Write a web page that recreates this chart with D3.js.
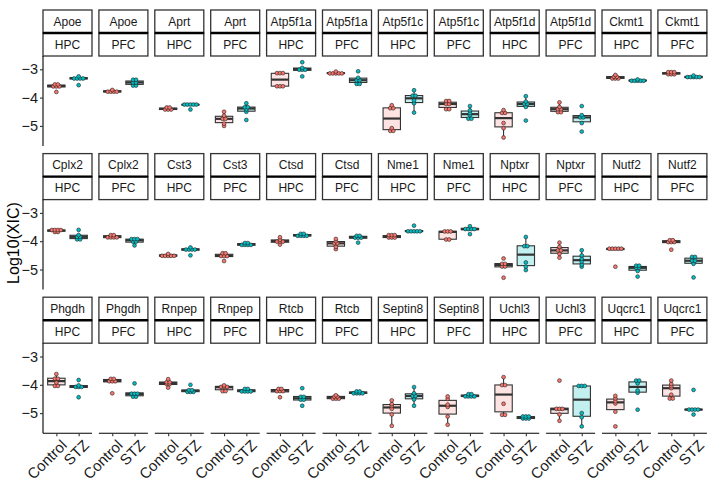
<!DOCTYPE html>
<html>
<head>
<meta charset="utf-8">
<script src="https://cdn.jsdelivr.net/npm/d3@7"></script>
<style>
  body { margin: 0; background: #fff; }
  text { font-family: "Liberation Sans", Arial, sans-serif; }
</style>
</head>
<body>
<div id="chart"></div>
<script>
// facets: gene x region, 12 columns x 3 rows
var genes = ["Apoe", "Aprt", "Atp5f1a", "Atp5f1c", "Atp5f1d", "Ckmt1",
             "Cplx2", "Cst3", "Ctsd", "Nme1", "Nptxr", "Nutf2",
             "Phgdh", "Rnpep", "Rtcb", "Septin8", "Uchl3", "Uqcrc1"];
var regions = ["HPC", "PFC"];
var groups = ["Control", "STZ"];
var yTicks = [-3, -4, -5];

// log10(XIC) per animal, one list per facet (same order as gene x region)
var controlValues = [
  [-3.52, -3.55, -3.58, -3.6, -3.63, -3.8],
  [-3.73, -3.76, -3.78, -3.8, -3.82],
  [-4.33, -4.37, -4.4, -4.42, -4.44],
  [-4.5, -4.64, -4.72, -4.78, -4.92, -5.0],
  [-3.12, -3.14, -3.15, -3.58, -3.6, -3.62],
  [-3.08, -3.12, -3.13, -3.14, -3.15, -3.17],
  [-4.27, -4.35, -4.4, -5.08, -5.15, -5.2],
  [-4.09, -4.15, -4.2, -4.25, -4.38, -4.44],
  [-4.44, -4.53, -4.55, -4.9, -5.08, -5.41],
  [-4.17, -4.33, -4.38, -4.44, -4.5, -4.53],
  [-3.2, -3.25, -3.28, -3.3, -3.33, -3.35],
  [-3.07, -3.12, -3.13, -3.15, -3.17, -3.2],
  [-3.58, -3.6, -3.62, -3.63, -3.65, -3.7],
  [-3.77, -3.8, -3.83, -3.85, -3.88, -3.9],
  [-4.45, -4.48, -4.5, -4.52, -4.53, -4.55],
  [-4.4, -4.45, -4.5, -4.52, -4.55, -4.7],
  [-3.86, -3.95, -3.98, -4.0, -4.05, -4.12],
  [-3.92, -4.0, -4.05, -4.1, -4.2, -4.28],
  [-3.75, -3.8, -3.82, -3.84, -3.88, -3.9],
  [-3.64, -3.65, -3.67, -3.93, -3.95],
  [-4.61, -4.78, -4.82, -4.87, -4.92, -5.29],
  [-4.05, -4.2, -4.3, -4.35, -4.45, -4.58],
  [-4.23, -4.25, -4.27, -4.28, -4.3, -4.9],
  [-3.95, -3.98, -4.0, -4.02, -4.06, -4.3],
  [-3.62, -3.75, -3.82, -3.92, -4.03, -4.05],
  [-3.78, -3.8, -3.85, -3.88, -3.9, -4.3],
  [-3.8, -3.9, -3.92, -3.95, -4.0, -4.1],
  [-4.02, -4.05, -4.07, -4.1, -4.2, -4.25],
  [-4.13, -4.16, -4.19, -4.22, -4.26, -4.44],
  [-4.37, -4.4, -4.44, -4.46, -4.5, -4.52],
  [-4.55, -4.68, -4.75, -4.85, -5.05, -5.45],
  [-4.41, -4.5, -4.7, -4.78, -5.12, -5.41],
  [-3.73, -4.0, -4.02, -4.67, -5.05, -5.07],
  [-3.85, -4.82, -4.84, -4.88, -5.05, -5.27],
  [-4.39, -4.48, -4.58, -4.66, -4.95, -5.47],
  [-3.85, -3.97, -4.05, -4.12, -4.35, -4.45, -4.52]
];
var stzValues = [
  [-3.25, -3.3, -3.3, -3.32, -3.35, -3.56],
  [-3.34, -3.4, -3.45, -3.48, -3.55, -3.6],
  [-4.23, -4.24, -4.25, -4.25, -4.26, -4.42],
  [-4.2, -4.33, -4.35, -4.42, -4.5, -4.79],
  [-2.75, -2.95, -2.98, -3.0, -3.05, -3.25],
  [-3.07, -3.3, -3.35, -3.42, -3.48, -3.55],
  [-3.74, -3.92, -3.95, -4.1, -4.2, -4.53],
  [-4.3, -4.45, -4.55, -4.62, -4.73, -4.76],
  [-3.95, -4.14, -4.2, -4.25, -4.33, -4.81],
  [-4.3, -4.62, -4.68, -4.72, -4.9, -5.2],
  [-3.36, -3.38, -3.4, -3.4, -3.41, -3.43],
  [-3.22, -3.25, -3.26, -3.28, -3.3, -3.3],
  [-3.6, -3.78, -3.82, -3.87, -3.92, -3.95],
  [-3.9, -3.92, -3.95, -3.98, -4.05, -4.15],
  [-4.22, -4.27, -4.28, -4.3, -4.32, -4.5],
  [-4.05, -4.08, -4.1, -4.12, -4.15, -4.16],
  [-3.72, -3.76, -3.78, -3.8, -3.82, -3.84],
  [-3.8, -3.82, -3.85, -3.87, -3.9, -4.05],
  [-3.45, -3.62, -3.64, -3.65, -3.66, -3.68],
  [-3.47, -3.54, -3.56, -3.58, -3.6, -3.75],
  [-3.85, -4.15, -4.2, -4.75, -4.9, -5.02],
  [-4.32, -4.5, -4.62, -4.72, -4.83, -4.9],
  [-4.85, -4.88, -4.93, -4.95, -5.05, -5.25],
  [-4.53, -4.58, -4.66, -4.72, -4.8, -5.28],
  [-3.83, -4.02, -4.05, -4.07, -4.1, -4.44],
  [-3.95, -4.28, -4.3, -4.35, -4.4, -4.44],
  [-4.0, -4.18, -4.2, -4.22, -4.25, -4.28],
  [-4.12, -4.17, -4.2, -4.22, -4.25, -4.27],
  [-4.12, -4.4, -4.45, -4.5, -4.55, -4.74],
  [-4.22, -4.25, -4.27, -4.29, -4.31, -4.33],
  [-4.08, -4.3, -4.37, -4.42, -4.52, -4.74],
  [-4.3, -4.36, -4.38, -4.4, -4.42, -4.44],
  [-5.1, -5.12, -5.14, -5.16, -5.2, -5.22],
  [-4.03, -4.04, -4.05, -5.0, -5.15, -5.47],
  [-3.82, -3.88, -3.95, -4.2, -4.28, -4.88],
  [-4.18, -4.86, -4.87, -4.88, -4.89, -5.05]
];

var fills = { Control: "#F8766D", STZ: "#00BFC4" };
var boxFills = { Control: "#FDE3E1", STZ: "#C2EFF0" };

var svgWidth = 717, svgHeight = 489;
var nCols = 12;
var colLeft = 43, colStep = 55.9, panelW = 49;
var rowTop = 10, rowStep = 143.6, stripH = 23, panelH = 90;

var svg = d3.select("#chart").append("svg")
  .attr("width", svgWidth)
  .attr("height", svgHeight);

var x = d3.scalePoint().domain(groups).range([0, panelW]).padding(0.6);
var y = d3.scaleLinear().domain([-5.71, -2.53]).range([panelH, 0]);
var boxW = x.step() * 0.78;

// build facet list
var facets = [];
genes.forEach(function(g) {
  regions.forEach(function(r) {
    facets.push({ gene: g, region: r });
  });
});
facets.forEach(function(f, i) {
  f.col = i % nCols;
  f.row = Math.floor(i / nCols);
  f.data = { Control: controlValues[i], STZ: stzValues[i] };
});

function boxStats(vals) {
  var s = vals.slice().sort(d3.ascending);
  var q1 = d3.quantile(s, 0.25), med = d3.quantile(s, 0.5), q3 = d3.quantile(s, 0.75);
  var iqr = q3 - q1;
  var inside = s.filter(function(v) { return v >= q1 - 1.5 * iqr && v <= q3 + 1.5 * iqr; });
  return { q1: q1, med: med, q3: q3, lo: d3.min(inside), hi: d3.max(inside) };
}

// dot density binning along y, stacked sideways around the center
function dotLayout(vals, binwidth) {
  var s = vals.slice().sort(d3.ascending), bins = [], cur = null;
  s.forEach(function(v) {
    if (cur && v - cur[0] < binwidth) cur.push(v);
    else { cur = [v]; bins.push(cur); }
  });
  var out = [];
  bins.forEach(function(b) {
    var c = (b[0] + b[b.length - 1]) / 2;
    b.forEach(function(v, k) {
      out.push({ v: c, k: k - (b.length - 1) / 2 });
    });
  });
  return out;
}

facets.forEach(function(f) {
  var px = colLeft + f.col * colStep;
  var sy = rowTop + f.row * rowStep;
  var py = sy + 2 * stripH;
  var g = svg.append("g").attr("transform", `translate(${px}, ${sy})`);

  // strips
  [f.gene, f.region].forEach(function(label, k) {
    g.append("rect")
      .attr("x", 0).attr("y", k * stripH)
      .attr("width", panelW).attr("height", stripH)
      .attr("fill", "#fff").attr("stroke", "#333").attr("stroke-width", 1.3);
    g.append("text")
      .attr("x", panelW / 2).attr("y", k * stripH + stripH / 2)
      .attr("dy", "0.36em")
      .attr("text-anchor", "middle")
      .attr("font-size", "12px")
      .attr("fill", "#1a1a1a")
      .text(label);
  });
  g.append("line")
    .attr("x1", 0).attr("x2", panelW)
    .attr("y1", stripH).attr("y2", stripH)
    .attr("stroke", "#000").attr("stroke-width", 2.4);

  var p = svg.append("g").attr("transform", `translate(${px}, ${py})`);

  groups.forEach(function(grp) {
    var vals = f.data[grp];
    var st = boxStats(vals);
    var cx = x(grp);
    p.append("line")
      .attr("x1", cx).attr("x2", cx)
      .attr("y1", y(st.hi)).attr("y2", y(st.q3))
      .attr("stroke", "#333").attr("stroke-width", 1.1);
    p.append("line")
      .attr("x1", cx).attr("x2", cx)
      .attr("y1", y(st.q1)).attr("y2", y(st.lo))
      .attr("stroke", "#333").attr("stroke-width", 1.1);
    p.append("rect")
      .attr("x", cx - boxW / 2).attr("width", boxW)
      .attr("y", y(st.q3)).attr("height", Math.max(0.1, y(st.q1) - y(st.q3)))
      .attr("fill", boxFills[grp])
      .attr("stroke", "#333").attr("stroke-width", 1.1);
    p.append("line")
      .attr("x1", cx - boxW / 2).attr("x2", cx + boxW / 2)
      .attr("y1", y(st.med)).attr("y2", y(st.med))
      .attr("stroke", "#333").attr("stroke-width", 2.2);

    p.selectAll(null)
      .data(dotLayout(vals, 0.07))
      .enter()
      .append("circle")
      .attr("cx", d => cx + d.k * 3)
      .attr("cy", d => y(d.v))
      .attr("r", 1.9)
      .attr("fill", fills[grp])
      .attr("stroke", "#222")
      .attr("stroke-width", 0.6);
  });

  // left axis only on first column
  if (f.col === 0) {
    var ya = p.append("g")
      .call(d3.axisLeft(y).tickValues(yTicks).tickSize(3).tickPadding(2)
        .tickFormat(d => d3.format("d")(d).replace("-", "\u2212")));
    ya.select(".domain").attr("stroke", "#000").attr("stroke-width", 1.1)
      .attr("d", `M0,0V${panelH}`);
    ya.selectAll(".tick line").attr("stroke", "#333").attr("stroke-width", 1.1);
    ya.selectAll(".tick text")
      .attr("font-size", "14.5px").attr("fill", "#1a1a1a")
      .attr("font-family", "Liberation Sans, Arial, sans-serif");
  }

  // bottom axis only on last row
  if (f.row === 2) {
    var xa = p.append("g")
      .attr("transform", `translate(0, ${panelH})`)
      .call(d3.axisBottom(x).tickSize(3).tickSizeOuter(0));
    xa.select(".domain").attr("stroke", "#000").attr("stroke-width", 1.1)
      .attr("d", `M0,0H${panelW}`);
    xa.selectAll(".tick line").attr("stroke", "#333").attr("stroke-width", 1.1);
    xa.selectAll(".tick text")
      .attr("font-size", "15px").attr("fill", "#1a1a1a")
      .attr("font-family", "Liberation Sans, Arial, sans-serif")
      .attr("text-anchor", "end")
      .attr("y", 0).attr("dy", "0.75em")
      .attr("transform", "translate(3, 5) rotate(-45)");
  }
});

// y axis title
svg.append("text")
  .attr("transform", "translate(19, 243) rotate(-90)")
  .attr("text-anchor", "middle")
  .attr("font-size", "16px")
  .attr("fill", "#000")
  .text("Log10(XIC)");
</script>
</body>
</html>
